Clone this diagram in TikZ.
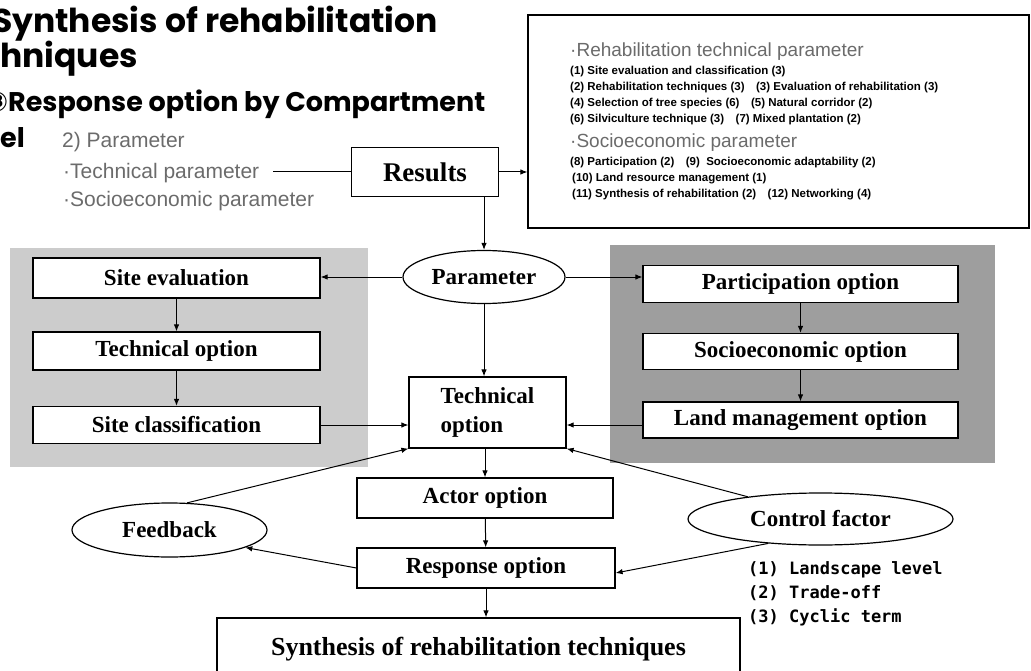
\documentclass[tikz,border=0pt]{standalone}
\usepackage{fontspec}
\setmainfont{Liberation Serif}
\newfontfamily\titlefont{Poppins}
\newfontfamily\symfont{DejaVu Sans}
\newfontfamily\listfont{Liberation Sans}
\newfontfamily\gothfont{DejaVu Sans Mono}
\usetikzlibrary{shapes.geometric,arrows.meta,calc}
\definecolor{panelA}{gray}{0.80}
\definecolor{panelB}{gray}{0.62}
\definecolor{hollow}{gray}{0.42}
\tikzset{
  >={Latex[length=7pt,width=5.5pt]},
  optbox/.style={draw, line width=1.2pt, fill=white, inner sep=2pt,
    font=\fontsize{23}{29}\selectfont\bfseries},
  optoval/.style={ellipse, draw, line width=1.2pt, fill=white, inner sep=0pt,
    font=\fontsize{23}{29}\selectfont\bfseries},
  ttl/.style={anchor=base west, inner sep=0pt,
    font=\titlefont\bfseries\fontsize{33}{36}\selectfont},
  ttlsmall/.style={ttl, font=\titlefont\bfseries\fontsize{27}{30}\selectfont},
  hollowtxt/.style={anchor=base west, inner sep=0pt, text=hollow,
    font=\listfont\fontsize{21}{24}\selectfont},
  headtxt/.style={hollowtxt, font=\listfont\fontsize{19}{22}\selectfont},
  itemtxt/.style={anchor=base west, inner sep=0pt,
    font=\listfont\bfseries\fontsize{11.5}{14}\selectfont},
  ctrltxt/.style={anchor=base west, inner sep=0pt,
    font=\gothfont\bfseries\fontsize{17}{20}\selectfont},
}

\begin{document}
\begin{tikzpicture}[x=1pt,y=-1pt]
    \useasboundingbox (0,0) rectangle (1031,671);
    \clip (0,0) rectangle (1031,671);

    % shaded panels
    \fill[panelA] (10,248) rectangle (368,467);
    \fill[panelB] (610,245) rectangle (995,463);

    % title
    \node[ttl] (ttlA) at (-8,33) {Synthesis of rehabilitation};
    \node[ttl] (ttlB) at (0,68) {\llap{tec}hniques};
    \node[ttlsmall] (ttlC) at (8,112) {\llap{\symfont\bfseries ③}Response option by Compartment};
    \node[ttlsmall] (ttlD) at (0,148) {\llap{lev}el};

    \node[hollowtxt] (ppar) at (62,148) {2) Parameter};
    \node[hollowtxt] (tpar) at (63,179) {·Technical parameter};
    \node[hollowtxt] (spar) at (63,207) {·Socioeconomic parameter};

    % parameter list
    \node[draw, line width=1.2pt, fill=white, minimum width=501pt, minimum height=213pt] (lst) at (778.5,121.5) {};
    \node[headtxt] (rhead) at (570,57) {·Rehabilitation technical parameter};
    \node[itemtxt] (it1) at (570,75) {(1)\ Site evaluation and classification (3)};
    \node[itemtxt] (it2) at (570,91) {(2)\ Rehabilitation techniques (3)\quad(3)\ Evaluation of rehabilitation (3)};
    \node[itemtxt] (it4) at (570,107) {(4)\ Selection of tree species (6)\quad(5)\ Natural corridor (2)};
    \node[itemtxt] (it6) at (570,123) {(6)\ Silviculture technique (3)\quad(7)\ Mixed plantation (2)};
    \node[headtxt] (shead) at (570,148) {·Socioeconomic parameter};
    \node[itemtxt] (it8) at (570,166) {(8)\ Participation (2)\quad(9)\ \ Socioeconomic adaptability (2)};
    \node[itemtxt] (it10) at (572,182) {(10) Land resource management (1)};
    \node[itemtxt] (it11) at (572,198) {(11) Synthesis of rehabilitation (2)\quad(12) Networking (4)};

    % flow nodes
    \node[optbox, minimum width=147pt, minimum height=49pt, font=\fontsize{27}{30}\selectfont\bfseries] (res) at (425,172) {Results};
    \node[optoval, minimum width=162pt, minimum height=53pt] (par) at (484,277) {Parameter};

    \node[optbox, minimum width=287pt, minimum height=40pt] (seval) at (176.5,278) {Site evaluation};
    \node[optbox, minimum width=287pt, minimum height=38pt] (topt) at (176.5,351) {Technical option};
    \node[optbox, minimum width=287pt, minimum height=37pt] (sclass) at (176.5,425) {Site classification};

    \node[optbox, minimum width=315pt, minimum height=37pt] (part) at (800.5,284) {Participation option};
    \node[optbox, minimum width=315pt, minimum height=36pt] (socio) at (800.5,351.5) {Socioeconomic option};
    \node[optbox, minimum width=315pt, minimum height=36pt] (land) at (800.5,420) {Land management option};

    \node[optbox, minimum width=157pt, minimum height=71pt, align=left] (tech) at (487.5,412.5) {Technical\\option};
    \node[optbox, minimum width=256pt, minimum height=40pt] (actor) at (485,498) {Actor option};
    \node[optbox, minimum width=258pt, minimum height=40pt] (resp) at (486,568) {Response option};
    \node[optbox, minimum width=523pt, minimum height=62pt, font=\fontsize{26}{30}\selectfont\bfseries] (synth) at (478.5,649) {Synthesis of rehabilitation techniques};

    \node[optoval, minimum width=195pt, minimum height=54pt] (feed) at (169.5,530) {Feedback};
    \node[optoval, minimum width=265pt, minimum height=52pt] (ctrl) at (820.5,519) {Control factor};

    \node[ctrltxt] (cf1) at (748,574) {(1) Landscape level};
    \node[ctrltxt] (cf2) at (748,598) {(2) Trade-off};
    \node[ctrltxt] (cf3) at (748,622) {(3) Cyclic term};

    \draw[line width=1pt]
          ([xshift=14pt]tpar.east |- res.west) edge (res.west)
          (res.east) edge[->] (res.east -| lst.west)
          (par.north |- res.south) edge[->] (par.north)

          (par.west) edge[->] (par.west -| seval.east)
          (par.east) edge[->] (par.east -| part.west)
          (par.south) edge[->] (par.south |- tech.north)

          (seval) edge[->] (topt)
          (topt) edge[->] (sclass)
          (part) edge[->] (socio)
          (socio) edge[->] (land)

          (sclass.east) edge[->] (sclass.east -| tech.west)
          (land.west |- sclass.east) edge[->] (sclass.east -| tech.east)

          (tech.south -| actor.north) edge[->] (actor.north)
          (actor) edge[->] (resp)
          (resp.south) edge[->] (resp.south |- synth.north)

          (feed.57) edge[->] (tech.south west)
          (ctrl.163) edge[->] (tech.south east)
          (resp.west) edge[->] (feed.-13)
          (ctrl.205) edge[->] ([yshift=-5pt]resp.east)
          ;
\end{tikzpicture}
\end{document}
